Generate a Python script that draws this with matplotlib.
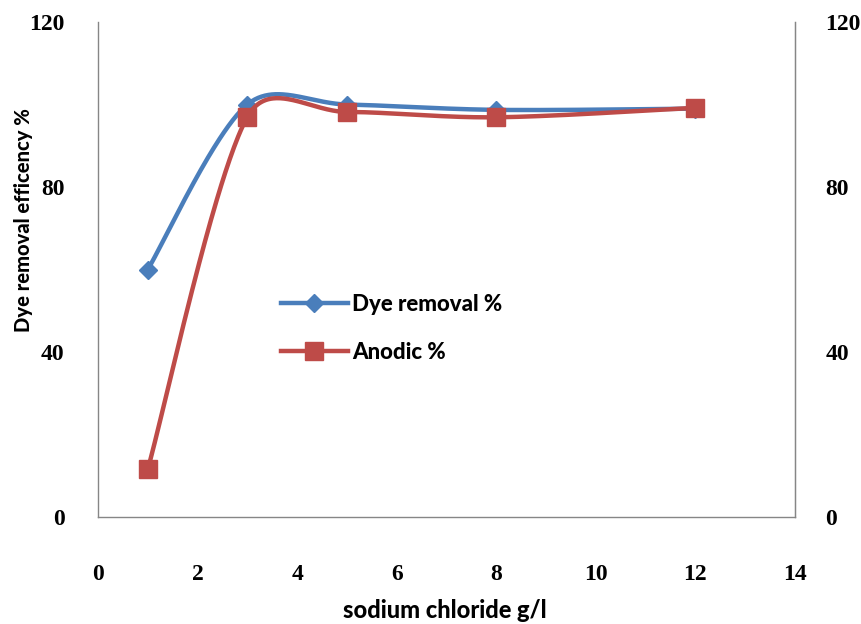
import numpy as np
import matplotlib
matplotlib.use("Agg")
import matplotlib.pyplot as plt
from matplotlib.lines import Line2D

nacl = [1, 3, 5, 8, 12]
dye_removal = [60.0, 100.0, 100.0, 98.7, 99.0]
anodic = [11.6, 97.0, 98.2, 96.9, 99.2]
yticks = [0, 40, 80, 120]
xticks = [0, 2, 4, 6, 8, 10, 12, 14]

BLUE = "#4A7EBB"
RED = "#BE4B48"

SX, SY = 49.8, 4.125  # px per data unit (for smoothing in screen space)


def excel_smooth(x, y, n=80):
    P = np.column_stack([np.asarray(x, float) * SX, np.asarray(y, float) * SY])
    m = len(P)
    out = []
    for i in range(m - 1):
        p0 = P[i - 1] if i > 0 else P[i]
        p1 = P[i]
        p2 = P[i + 1]
        p3 = P[i + 2] if i + 2 < m else P[i + 1]
        d01 = np.linalg.norm(p1 - p0)
        d12 = np.linalg.norm(p2 - p1)
        d23 = np.linalg.norm(p3 - p2)
        f1 = min(1.0, np.sqrt(2 * d12 / (d01 + d12))) / 6.0
        f2 = min(1.0, np.sqrt(2 * d12 / (d12 + d23))) / 6.0
        c1 = p1 + (p2 - p0) * f1
        c2 = p2 - (p3 - p1) * f2
        t = np.linspace(0, 1, n)[:, None]
        seg = ((1 - t) ** 3) * p1 + 3 * ((1 - t) ** 2) * t * c1 + 3 * (1 - t) * t ** 2 * c2 + t ** 3 * p2
        out.append(seg if i == 0 else seg[1:])
    out = np.vstack(out)
    return out[:, 0] / SX, out[:, 1] / SY


fig = plt.figure(figsize=(8.61, 6.24), dpi=100)
ax = fig.add_axes([98 / 861, 1 - 517 / 624, (795 - 98) / 861, (517 - 22) / 624])

sx, sy = excel_smooth(nacl, dye_removal)
ax.plot(sx, sy, color=BLUE, lw=3.2, solid_capstyle="round", zorder=2)
ax.plot(nacl, dye_removal, ls="none", marker="D", ms=9, color=BLUE, zorder=3)
sx, sy = excel_smooth(nacl, anodic)
ax.plot(sx, sy, color=RED, lw=3.2, solid_capstyle="round", zorder=4)
ax.plot(nacl, anodic, ls="none", marker="s", ms=13, color=RED, zorder=5)

ax.set_xlim(0, 14)
ax.set_ylim(0, 120)
ax.set_xticks(xticks)
ax.set_yticks(yticks)

tickfont = dict(family="Liberation Serif", weight="bold", size=17)
ax.set_xticklabels([str(v) for v in xticks], **tickfont)
ax.set_yticklabels([str(v) for v in yticks], **tickfont)
ax.tick_params(axis="x", length=0, pad=34)
ax.tick_params(axis="y", length=0, pad=24)

for s in ["left", "bottom", "right"]:
    ax.spines[s].set_color("#868686")
    ax.spines[s].set_linewidth(1.0)
ax.spines["top"].set_visible(False)

ax2 = ax.twinx()
ax2.set_ylim(0, 120)
ax2.set_yticks(yticks)
ax2.set_yticklabels([str(v) for v in yticks], **tickfont)
ax2.tick_params(axis="y", length=0, pad=22)
ax2.spines["top"].set_visible(False)
ax2.spines["right"].set_color("#868686")
ax2.spines["left"].set_visible(False)
ax2.spines["bottom"].set_visible(False)

fig.text(445 / 861, 1 - 610 / 624, "sodium chloride g/l", ha="center", va="center",
         family="Lato", weight="black", size=17)
fig.text(24 / 861, 1 - 220 / 624, "Dye removal efficency %", ha="center", va="center",
         rotation=90, family="Lato", weight="black", size=14.5)

handles = [
    Line2D([], [], color=BLUE, lw=3.2, marker="D", ms=9),
    Line2D([], [], color=RED, lw=3.2, marker="s", ms=13),
]
leg = ax.legend(handles, ["Dye removal %", "Anodic %"], loc="upper left",
                bbox_to_anchor=((261 - 98) / 697, (517 - 274) / 495),
                frameon=False, handlelength=3.0, labelspacing=1.2,
                prop=dict(family="Lato", weight="black", size=16), handletextpad=0.2)

fig.savefig("out.png", dpi=100)
